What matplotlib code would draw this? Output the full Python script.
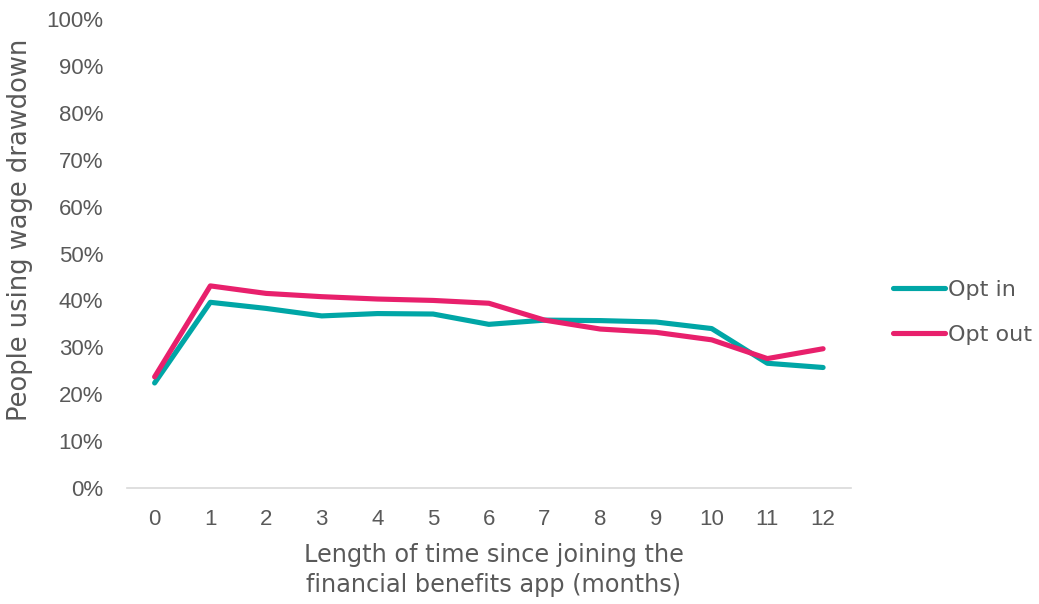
import matplotlib
matplotlib.use("Agg")
import matplotlib.pyplot as plt
from matplotlib.ticker import PercentFormatter

months = list(range(13))
opt_in = [22.4, 39.6, 38.3, 36.7, 37.2, 37.1, 34.9, 35.8, 35.7, 35.4, 34.0, 26.6, 25.7]
opt_out = [23.7, 43.1, 41.5, 40.8, 40.3, 40.0, 39.4, 35.8, 33.9, 33.2, 31.6, 27.6, 29.7]
series_names = ["Opt in", "Opt out"]
y_ticks = list(range(0, 101, 10))

teal = "#00A6A6"
pink = "#E8206C"
text_grey = "#595959"

fig = plt.figure(figsize=(10.39, 6.04), dpi=100)
ax = fig.add_axes([0.122, 0.192, 0.697, 0.7765])

ax.plot(months, opt_in, color=teal, lw=3.7, solid_capstyle="round",
        solid_joinstyle="round", label=series_names[0])
ax.plot(months, opt_out, color=pink, lw=3.7, solid_capstyle="round",
        solid_joinstyle="round", label=series_names[1])

ax.set_xlim(-0.5, 12.5)
ax.set_ylim(0, 100)
ax.set_yticks(y_ticks)
ax.yaxis.set_major_formatter(PercentFormatter(decimals=0))
ax.set_xticks(months)

for side in ("top", "right", "left"):
    ax.spines[side].set_visible(False)
ax.spines["bottom"].set_color("#d9d9d9")
ax.spines["bottom"].set_linewidth(1.2)
ax.tick_params(axis="both", length=0, labelsize=16, labelcolor=text_grey)
ax.tick_params(axis="x", pad=15)
ax.tick_params(axis="y", pad=17)
for lab in ax.get_xticklabels() + ax.get_yticklabels():
    lab.set_family("Liberation Sans")

ax.set_ylabel("People using wage drawdown", fontsize=18.5, color=text_grey,
              family="DejaVu Sans")
ax.yaxis.set_label_coords(-0.13, 0.55)
ax.set_xlabel("Length of time since joining the\nfinancial benefits app (months)",
              fontsize=17.3, color=text_grey, family="DejaVu Sans",
              linespacing=1.3)
ax.xaxis.set_label_coords(0.507, -0.117)

fig.legend(loc="center left", bbox_to_anchor=(0.8595, 0.483), frameon=False,
           handlelength=2.35, handletextpad=0.13, labelspacing=1.13,
           borderpad=0, borderaxespad=0,
           prop={"family": "DejaVu Sans", "size": 16},
           labelcolor=text_grey)

fig.savefig("out.png", dpi=100, facecolor="white")
